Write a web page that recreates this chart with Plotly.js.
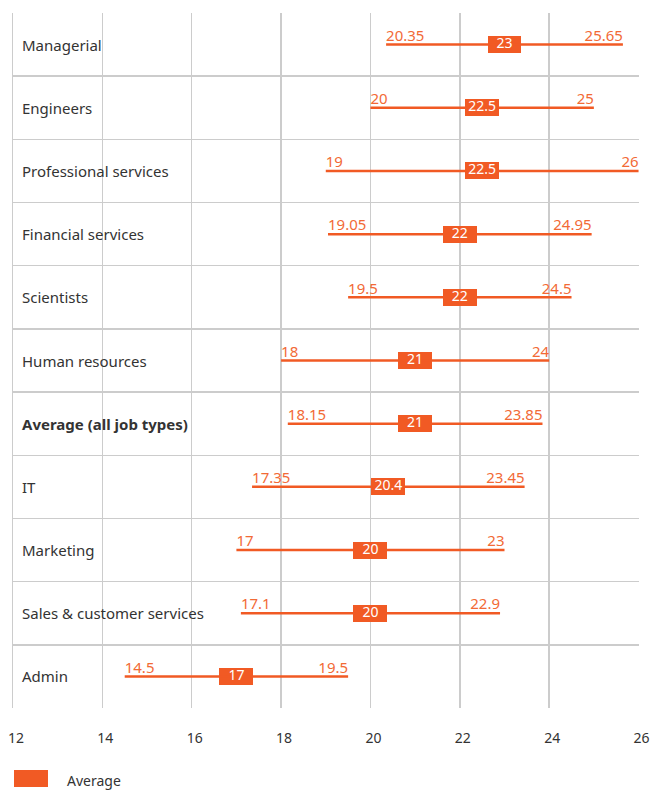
<!DOCTYPE html>
<html><head><meta charset="utf-8">
<script src="https://cdn.plot.ly/plotly-3.0.1.min.js"></script>
<style>html,body{margin:0;padding:0;background:#fff}</style>
</head><body>
<div id="chart" style="width:660px;height:790px"></div>
<script>
const categories = ["Managerial","Engineers","Professional services","Financial services","Scientists","Human resources","Average (all job types)","IT","Marketing","Sales & customer services","Admin"];
const minPay = [20.35,20,19,19.05,19.5,18,18.15,17.35,17,17.1,14.5];
const avgPay = [23,22.5,22.5,22,22,21,21,20.4,20,20,17];
const maxPay = [25.65,25,26,24.95,24.5,24,23.85,23.45,23,22.9,19.5];
const xTicks = [12,14,16,18,20,22,24,26];
const boldCategory = "Average (all job types)";

const ORANGE = '#F15A24';
const TEXT_ORANGE = '#F26A36';
const FONT = '"Noto Sans", "Open Sans", sans-serif';
const BOX_HALF = 0.38;

// range lines
const lx = [], ly = [];
categories.forEach((c, i) => { lx.push(minPay[i], maxPay[i], null); ly.push(c, c, null); });

const traces = [
  { type: 'scatter', mode: 'lines', x: lx, y: ly, line: {color: ORANGE, width: 2.5}, hoverinfo: 'skip', showlegend: false },
  { type: 'bar', orientation: 'h', y: categories, base: avgPay.map(v => v - BOX_HALF), x: avgPay.map(() => 2*BOX_HALF),
    width: 0.27, marker: {color: ORANGE, line: {width: 0}}, hoverinfo: 'skip', showlegend: false, name: 'Average' },
  { type: 'scatter', mode: 'text', x: avgPay, y: categories, text: avgPay.map(String), textposition: 'middle center',
    textfont: {color: '#ffffff', size: 14, family: FONT}, hoverinfo: 'skip', showlegend: false },
  { type: 'scatter', mode: 'text', x: minPay, y: categories, text: minPay.map(String), textposition: 'top right',
    textfont: {color: TEXT_ORANGE, size: 15, family: FONT}, hoverinfo: 'skip', showlegend: false },
  { type: 'scatter', mode: 'text', x: maxPay, y: categories, text: maxPay.map(String), textposition: 'top left',
    textfont: {color: TEXT_ORANGE, size: 15, family: FONT}, hoverinfo: 'skip', showlegend: false }
];

const categoryLabels = categories.map(c => ({
  xref: 'paper', yref: 'y', x: 0, y: c, xshift: 7, xanchor: 'left', yanchor: 'middle',
  text: c === boldCategory ? '<b>' + c + '</b>' : c, showarrow: false,
  font: {size: 15, color: '#333333', family: FONT}
}));

const layout = {
  width: 660, height: 790,
  margin: {l: 13, r: 21, t: 13, b: 82},
  paper_bgcolor: '#ffffff', plot_bgcolor: '#ffffff',
  font: {family: FONT, color: '#333333', size: 14},
  showlegend: false,
  bargap: 0,
  xaxis: {
    range: [xTicks[0], xTicks[xTicks.length-1] + 0.01],
    tickmode: 'array', tickvals: xTicks, ticktext: xTicks.map(String),
    showgrid: true, gridcolor: '#cccccc', gridwidth: 1.5,
    zeroline: false, showline: false, ticks: '',
    ticklabelstandoff: 20, ticklabelshift: 3,
    tickfont: {size: 14, color: '#333333', family: FONT}
  },
  yaxis: {
    type: 'category',
    categoryorder: 'array', categoryarray: categories,
    range: [categories.length - 0.5, -0.5],
    tickson: 'boundaries',
    showticklabels: false,
    showgrid: true, gridcolor: '#cccccc', gridwidth: 1.5,
    showline: true, linecolor: '#cccccc', linewidth: 1.5, mirror: false,
    zeroline: false, ticks: ''
  },
  shapes: [
    {type: 'rect', xref: 'paper', yref: 'paper', x0: 0.0016, x1: 0.0559, y0: -0.1137, y1: -0.0892,
     fillcolor: ORANGE, line: {width: 0}}
  ],
  annotations: categoryLabels.concat([
    {xref: 'paper', yref: 'paper', x: 0.083, y: -0.1036, xanchor: 'left', yanchor: 'middle',
     text: 'Average', showarrow: false, font: {size: 14, color: '#333333', family: FONT}}
  ])
};

Plotly.newPlot('chart', traces, layout, {displayModeBar: false, staticPlot: true});
</script>
</body></html>
